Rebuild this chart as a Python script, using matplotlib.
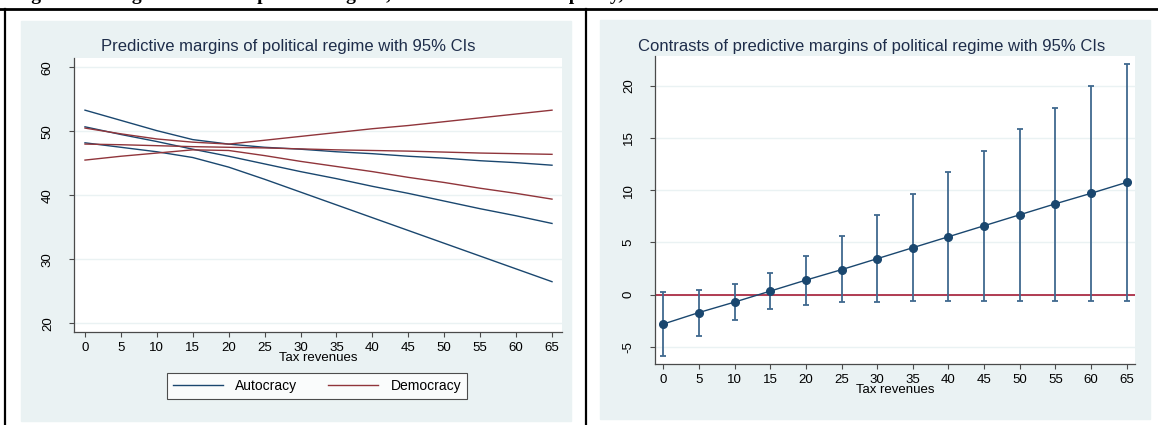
import numpy as np
import matplotlib.pyplot as plt
from matplotlib.patches import Rectangle
from matplotlib.lines import Line2D

plt.rcParams['font.family'] = ['Liberation Sans', 'DejaVu Sans']
plt.rcParams['axes.unicode_minus'] = False

# ---- data ----
tax = [0, 5, 10, 15, 20, 25, 30, 35, 40, 45, 50, 55, 60, 65]

# left panel: predictive margins (point estimate + CI bounds)
auto_mid = [50.7, 49.5, 48.4, 47.2, 46.1, 44.9, 43.7, 42.6, 41.4, 40.3, 39.1, 37.9, 36.8, 35.6]
auto_hi = [53.3, 51.7, 50.1, 48.7, 48.0, 47.5, 47.2, 46.8, 46.5, 46.1, 45.8, 45.4, 45.1, 44.7]
auto_lo = [48.2, 47.5, 46.8, 45.9, 44.4, 42.5, 40.5, 38.5, 36.5, 34.5, 32.5, 30.5, 28.5, 26.5]
demo_mid = [48.0, 47.9, 47.75, 47.6, 47.5, 47.4, 47.25, 47.1, 47.0, 46.9, 46.75, 46.6, 46.5, 46.4]
demo_hi = [50.5, 49.6, 48.8, 48.3, 48.0, 48.6, 49.2, 49.8, 50.4, 50.9, 51.5, 52.1, 52.7, 53.3]
demo_lo = [45.5, 46.1, 46.6, 47.1, 47.0, 46.2, 45.3, 44.5, 43.7, 42.8, 42.0, 41.1, 40.3, 39.4]

# right panel: contrasts with 95% CI
contr = [-2.8, -1.7, -0.7, 0.35, 1.4, 2.4, 3.45, 4.5, 5.55, 6.6, 7.65, 8.7, 9.7, 10.75]
contr_hi = [0.3, 0.5, 1.0, 2.05, 3.7, 5.6, 7.6, 9.65, 11.7, 13.75, 15.85, 17.9, 20.0, 22.1]
contr_lo = [-5.9, -3.9, -2.4, -1.35, -0.95, -0.7, -0.65, -0.6, -0.55, -0.55, -0.55, -0.55, -0.55, -0.6]

left_yticks = [20, 30, 40, 50, 60]
right_yticks = [-5, 0, 5, 10, 15, 20]

W, H = 1158, 425
navy = '#1A476F'
maroon = '#90353B'
bg = '#EAF2F3'
title_col = '#1E2D4A'


def box(l, t, r, b):
    return [l / W, 1 - b / H, (r - l) / W, (b - t) / H]


fig = plt.figure(figsize=(W / 100, H / 100), dpi=100)

# panel backgrounds
for l, t, r, b in [(21, 21, 571, 421), (600, 20, 1150, 419)]:
    fig.patches.append(Rectangle((l / W, 1 - b / H), (r - l) / W, (b - t) / H,
                                 transform=fig.transFigure, color=bg, zorder=-5))

# black frame lines of the table
fig.lines.append(Line2D([0, 1], [1 - 8.5 / H] * 2, transform=fig.transFigure, color='k', lw=2))
fig.lines.append(Line2D([5 / W] * 2, [0, 1 - 8.5 / H], transform=fig.transFigure, color='k', lw=1.6))
fig.lines.append(Line2D([586 / W] * 2, [0, 1 - 8.5 / H], transform=fig.transFigure, color='k', lw=1.6))

# caption, cut off at the top edge like in the source
fig.text(0.012, 1 + 0.5 / H, 'Figure 3: Marginal effects of political regime, conditional on tax capacity, 1990-2012',
         family='Liberation Serif', weight='bold', fontsize=14, va='baseline', ha='left')


def style(ax, yticks):
    ax.set_facecolor('white')
    for s in ['top', 'right']:
        ax.spines[s].set_visible(False)
    for s in ['left', 'bottom']:
        ax.spines[s].set_color('#4a4a4a')
        ax.spines[s].set_linewidth(0.9)
    ax.set_xticks(tax)
    ax.set_yticks(yticks)
    ax.tick_params(axis='both', length=3.5, width=0.8, color='#4a4a4a', labelsize=9.5)
    ax.tick_params(axis='y', pad=11)
    ax.tick_params(axis='x', pad=4)
    for lab in ax.get_yticklabels():
        lab.set_rotation(90)
        lab.set_va('center')
    ax.grid(axis='y', color=bg, lw=1.0)
    ax.set_axisbelow(True)
    ax.set_xlabel('Tax revenues', fontsize=9.5, labelpad=-1.5)


# ---- left panel ----
ax1 = fig.add_axes(box(74, 58, 562, 332))
for ys in [auto_mid, auto_hi, auto_lo]:
    ax1.plot(tax, ys, color=navy, lw=1.0)
for ys in [demo_mid, demo_hi, demo_lo]:
    ax1.plot(tax, ys, color=maroon, lw=1.0)
ax1.set_xlim(-1.53, 66.39)
ax1.set_ylim(18.64, 61.45)
style(ax1, left_yticks)
fig.text(288 / W, 1 - 47 / H, 'Predictive margins of political regime with 95% CIs',
         ha='center', va='center', fontsize=12, color=title_col)

handles = [Line2D([], [], color=navy, lw=1.0), Line2D([], [], color=maroon, lw=1.0)]
leg = fig.legend(handles, ['Autocracy', 'Democracy'], loc='center', ncol=2,
                 bbox_to_anchor=(317 / W, 1 - 386 / H), fontsize=10, frameon=True,
                 fancybox=False, handlelength=3.6, columnspacing=2.2, handletextpad=0.9,
                 borderpad=0.4)
leg.get_frame().set_edgecolor('#222222')
leg.get_frame().set_linewidth(0.8)

# ---- right panel ----
ax2 = fig.add_axes(box(655, 56, 1135, 364))
ax2.axhline(0, color='#A51C36', lw=1.2, zorder=2)
err = [np.array(contr) - np.array(contr_lo), np.array(contr_hi) - np.array(contr)]
ax2.errorbar(tax, contr, yerr=err, fmt='none', ecolor='#40698F', elinewidth=1.3,
             capsize=2.3, capthick=1.3, zorder=3)
ax2.plot(tax, contr, color=navy, lw=1.0, marker='o', ms=5.5, zorder=4)
ax2.set_xlim(-1.16, 66.16)
ax2.set_ylim(-6.62, 22.83)
style(ax2, right_yticks)
fig.text(872 / W, 1 - 46 / H, 'Contrasts of predictive margins of political regime with 95% CIs',
         ha='center', va='center', fontsize=12, color=title_col)

fig.savefig('out.png', dpi=100)
